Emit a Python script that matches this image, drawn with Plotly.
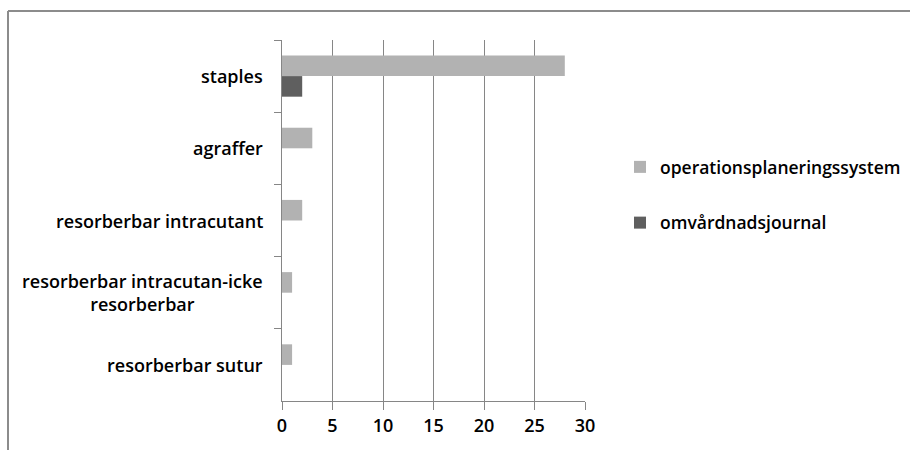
import plotly.graph_objects as go

categories = ["staples", "agraffer", "resorberbar intracutant",
              "resorberbar intracutan-icke<br>resorberbar", "resorberbar sutur"]
series_names = ["operationsplaneringssystem", "omvårdnadsjournal"]
op_values = [28, 3, 2, 1, 1]
journal_values = [2, 0, 0, 0, 0]
series_values = [op_values, journal_values]
series_colors = ["#b2b2b2", "#5f5f5f"]
x_ticks = [0, 5, 10, 15, 20, 25, 30]

FONT = "Open Sans"
FSIZE = 18
FWEIGHT = 600
W, H = 910, 450
ML, MR, MT, MB = 282, 325, 40, 49
plot_w = W - ML - MR
plot_h = H - MT - MB

fig = go.Figure()
for i, (name, vals, col) in enumerate(zip(series_names, series_values, series_colors)):
    fig.add_trace(go.Bar(
        y=categories, x=vals, name=name, orientation="h",
        marker=dict(color=col, line=dict(width=0)),
        legendgroup=f"g{i}",
    ))

# category labels, centred line by line, right-aligned next to the axis
for cat in categories:
    fig.add_annotation(
        x=-(17 / plot_w), xref="paper", xanchor="right",
        y=cat, yref="y", yanchor="middle",
        text=cat, showarrow=False, align="center",
        font=dict(family=FONT, size=FSIZE, color="#000000", weight=FWEIGHT),
    )

# outer chart frame (top and left edges)
fx0 = (8 - ML) / plot_w
fy_top = (H - MB - 11) / plot_h
fig.add_shape(type="line", xref="paper", yref="paper",
              x0=fx0, x1=(W - ML + 5) / plot_w, y0=fy_top, y1=fy_top,
              line=dict(color="#8c8c8c", width=2))
fig.add_shape(type="line", xref="paper", yref="paper",
              x0=fx0, x1=fx0, y0=fy_top, y1=-(MB + 5) / plot_h,
              line=dict(color="#8c8c8c", width=2))

fig.update_layout(
    width=W, height=H,
    margin=dict(l=ML, r=MR, t=MT, b=MB),
    paper_bgcolor="white", plot_bgcolor="white",
    barmode="group", bargap=0.43, bargroupgap=0,
    font=dict(family=FONT, size=FSIZE, color="#000000", weight=FWEIGHT),
    showlegend=True,
    legend=dict(
        xref="container", yref="container",
        x=620 / W, xanchor="left",
        y=1 - 195 / H, yanchor="middle",
        font=dict(family=FONT, size=17.5, color="#000000", weight=FWEIGHT),
        tracegroupgap=30, itemwidth=30,
        traceorder="grouped",
    ),
    xaxis=dict(
        range=[0, 30], tickvals=x_ticks, ticktext=[str(v) for v in x_ticks],
        showgrid=True, gridcolor="#868686", gridwidth=1,
        showline=True, linecolor="#868686", linewidth=1,
        ticks="outside", ticklen=8, tickcolor="#868686",
        zeroline=False,
        tickfont=dict(family=FONT, size=FSIZE, weight=FWEIGHT),
    ),
    yaxis=dict(
        type="category", autorange="reversed",
        showticklabels=False,
        showline=True, linecolor="#868686", linewidth=1,
        ticks="outside", ticklen=7, tickcolor="#868686",
        tickson="boundaries", showgrid=False, zeroline=False,
    ),
)

fig.write_html("out.html")
